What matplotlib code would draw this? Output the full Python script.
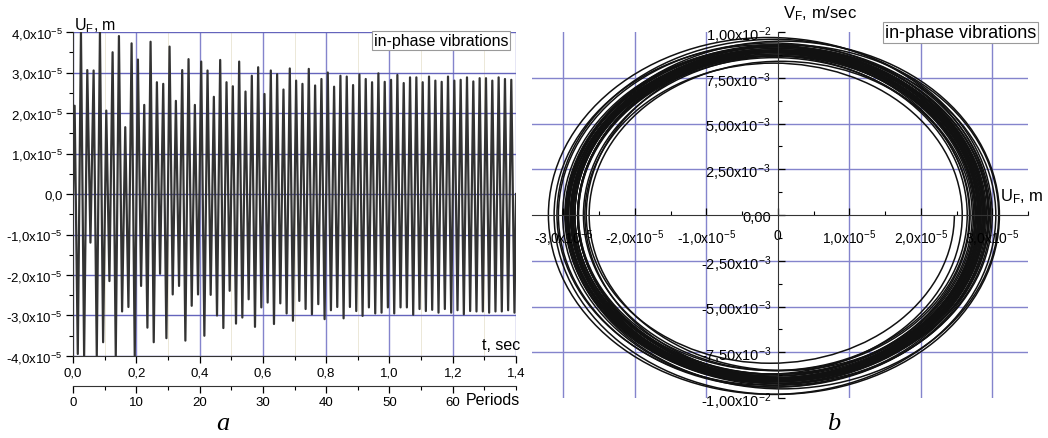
import matplotlib.pyplot as plt
import matplotlib.ticker as mticker
from matplotlib.patches import Arc
import numpy as np

plt.rcParams['font.family'] = ['Liberation Sans', 'DejaVu Sans']
plt.rcParams['mathtext.fontset'] = 'custom'
plt.rcParams['mathtext.rm'] = 'Liberation Sans'
plt.rcParams['mathtext.it'] = 'Liberation Sans:italic'

period = 0.02   # s (50 Hz)
t_end = 1.4

# panel a: max / min displacement in every period, units 1e-5 m
u_peaks = [2.18, 3.99, 3.06, 3.05, 4.0, 2.06, 3.5, 3.9, 1.65, 3.72,
           3.32, 2.2, 3.76, 2.76, 2.72, 3.64, 2.3, 3.06, 3.33, 2.2,
           3.27, 3.05, 2.4, 3.31, 2.76, 2.66, 3.27, 2.53, 2.92, 3.13,
           2.47, 3.05, 2.96, 2.58, 3.1, 2.8, 2.72, 3.09, 2.68, 2.84,
           3.0, 2.65, 2.92, 2.9, 2.69, 2.95, 2.84, 2.76, 2.98, 2.77,
           2.82, 2.94, 2.74, 2.88, 2.88, 2.76, 2.9, 2.8, 2.77, 2.9,
           2.8, 2.82, 2.88, 2.78, 2.86, 2.86, 2.8, 2.88, 2.84, 2.82]
u_troughs = [-3.95, -4.0, -1.2, -4.0, -3.66, -2.15, -4.0, -2.9, -2.79, -4.0,
             -2.27, -3.3, -3.66, -1.97, -3.56, -2.48, -2.27, -3.62, -2.76, -2.48,
             -3.5, -2.49, -3.0, -3.31, -2.39, -3.2, -3.05, -2.6, -3.28, -2.8,
             -2.68, -3.21, -2.7, -2.95, -3.13, -2.64, -2.84, -2.97, -2.72, -3.09,
             -2.87, -2.79, -3.07, -2.79, -2.89, -3.01, -2.8, -2.95, -2.93, -2.8,
             -2.95, -2.8, -2.8, -2.98, -2.84, -2.89, -2.86, -2.93, -2.84, -2.93,
             -2.87, -2.97, -2.89, -2.9, -2.9, -2.93, -2.9, -2.9, -2.87, -2.93]

# panel b: steady loops from period 30 on, velocity extremes, units 1e-3 m/s
first_loop = 30
v_bot = [8.1, 9.8, 8.9, 8.7, 9.8, 8.5, 8.7, 9.5, 8.5, 9.3,
         9.2, 8.5, 9.4, 8.9, 8.8, 9.4, 8.9, 9.0, 9.3, 8.7,
         9.1, 9.0, 8.7, 9.2, 9.0, 8.9, 9.0, 9.0, 8.8, 9.2,
         8.9, 9.1, 9.1, 8.9, 9.0, 9.1, 8.9, 9.1, 9.0, 9.0]
v_top = [9.0, 9.7, 8.3, 9.5, 9.3, 8.4, 9.3, 8.9, 8.7, 9.6,
         8.7, 9.0, 9.4, 8.6, 9.2, 9.2, 8.7, 9.3, 8.9, 8.8,
         9.2, 8.7, 8.9, 9.2, 8.8, 9.1, 8.9, 8.9, 9.0, 9.0,
         8.9, 9.2, 8.9, 9.0, 9.0, 9.0, 9.1, 9.0, 8.9]

grid_h = '#6464bc'
grid_v = '#8484cc'


def fmt_u(v, pos):
    if abs(v) < 1e-12:
        return '0,0'
    return ('%.1f' % (v * 1e5)).replace('.', ',') + 'x10$^{-5}$'


def fmt_u0(v, pos):
    if abs(v) < 1e-12:
        return '0'
    return ('%.1f' % (v * 1e5)).replace('.', ',') + 'x10$^{-5}$'


def fmt_v(v, pos):
    if abs(v) < 1e-12:
        return '0,00'
    if abs(v) > 0.0099:
        return ('%.2f' % (v * 1e2)).replace('.', ',') + 'x10$^{-2}$'
    return ('%.2f' % (v * 1e3)).replace('.', ',') + 'x10$^{-3}$'


n = len(u_peaks)
t_peak = period / 4 + period * np.arange(n)
t_trough = 3 * period / 4 + period * np.arange(n)
t = np.concatenate([[0], np.column_stack([t_peak, t_trough]).ravel(), [t_end]])
u = np.concatenate([[0], np.column_stack([u_peaks, u_troughs]).ravel(), [0]]) * 1e-5

fig = plt.figure(figsize=(10.48, 4.39), dpi=100)

# ---- panel a: time history
ax1 = fig.add_axes([0.0697, 0.1868, 0.4227, 0.738])
ax1.plot(t, u, color='#333333', lw=1.6)
ax1.set_xlim(0, t_end)
ax1.set_ylim(-4e-5, 4e-5)
ax1.set_axisbelow(True)

ax1.xaxis.set_major_locator(mticker.MultipleLocator(0.2))
ax1.xaxis.set_minor_locator(mticker.MultipleLocator(0.1))
ax1.xaxis.set_major_formatter(mticker.FuncFormatter(lambda v, p: ('%.1f' % v).replace('.', ',')))
ax1.yaxis.set_major_locator(mticker.MultipleLocator(1e-5))
ax1.yaxis.set_minor_locator(mticker.MultipleLocator(0.5e-5))
ax1.yaxis.set_major_formatter(mticker.FuncFormatter(fmt_u))

ax1.yaxis.grid(True, color=grid_h, lw=1.0)
ax1.xaxis.grid(True, color=grid_v, lw=1.0)
ax1.xaxis.grid(True, which='minor', color='#ece8d8', lw=0.7)

ax1.tick_params(axis='both', which='major', direction='out', length=5, width=0.9, labelsize=9.5, pad=2.5)
ax1.tick_params(axis='both', which='minor', direction='out', length=3, width=0.8)
for s in ['top', 'right']:
    ax1.spines[s].set_visible(False)
for s in ['left', 'bottom']:
    ax1.spines[s].set_color('#333333')

sec = ax1.secondary_xaxis(-0.0926, functions=(lambda x: x / period, lambda p: p * period))
sec.set_xticks(np.arange(0, 61, 10))
sec.xaxis.set_minor_locator(mticker.MultipleLocator(5))
sec.tick_params(which='major', direction='out', length=5, width=0.9, labelsize=9.5, pad=2.5)
sec.tick_params(which='minor', direction='out', length=3, width=0.8)
sec.spines['bottom'].set_color('#333333')

ax1.text(0.002, 1.022, 'U$_\\mathrm{F}$, m', transform=ax1.transAxes, fontsize=11.5,
         ha='left', va='center')
ax1.text(1.01, 0.035, 't, sec', transform=ax1.transAxes, fontsize=11.5, ha='right', va='center')
ax1.text(1.01, -0.133, 'Periods', transform=ax1.transAxes, fontsize=11.5, ha='right', va='center')
ax1.text(0.831, 0.975, 'in-phase vibrations', transform=ax1.transAxes, fontsize=11.5,
         ha='center', va='center',
         bbox=dict(boxstyle='square,pad=0.12', fc='white', ec='#9a9a9a', lw=0.8))

# ---- panel b: phase portrait
ax2 = fig.add_axes([0.5076, 0.0911, 0.4733, 0.8337])
ax2.set_xlim(-3.44e-5, 3.5e-5)
ax2.set_ylim(-1.0e-2, 1.0e-2)

x_grid = [-3e-5, -2e-5, -1e-5, 1e-5, 2e-5, 3e-5]
y_grid = [-7.5e-3, -5e-3, -2.5e-3, 2.5e-3, 5e-3, 7.5e-3]
for xg in x_grid:
    ax2.axvline(xg, color=grid_v, lw=1.0, zorder=0)
for yg in y_grid:
    ax2.axhline(yg, color=grid_v, lw=1.0, zorder=0)

for i in range(len(v_bot)):
    k = first_loop + i
    p = u_peaks[k] * 1e-5
    q = u_troughs[k] * 1e-5
    ax2.add_patch(Arc(((p + q) / 2, 0), p - q, 2 * v_bot[i] * 1e-3,
                      theta1=180, theta2=360, color='#111111', lw=1.1))
    if i < len(v_top):
        p2 = u_peaks[k + 1] * 1e-5
        ax2.add_patch(Arc(((p2 + q) / 2, 0), p2 - q, 2 * v_top[i] * 1e-3,
                          theta1=0, theta2=180, color='#111111', lw=1.1))

ax2.spines['left'].set_position(('data', 0))
ax2.spines['bottom'].set_position(('data', 0))
for s in ['top', 'right']:
    ax2.spines[s].set_visible(False)
for s in ['left', 'bottom']:
    ax2.spines[s].set_color('#333333')

ax2.xaxis.set_major_locator(mticker.MultipleLocator(1e-5))
ax2.xaxis.set_minor_locator(mticker.MultipleLocator(0.5e-5))
ax2.xaxis.set_major_formatter(mticker.FuncFormatter(fmt_u0))
ax2.yaxis.set_major_locator(mticker.MultipleLocator(2.5e-3))
ax2.yaxis.set_minor_locator(mticker.MultipleLocator(1.25e-3))
ax2.yaxis.set_major_formatter(mticker.FuncFormatter(fmt_v))
ax2.tick_params(axis='both', which='major', direction='in', length=5, width=0.9)
ax2.tick_params(axis='both', which='minor', direction='in', length=3, width=0.8)
ax2.tick_params(axis='x', labelsize=10, pad=9)
ax2.tick_params(axis='y', labelsize=10.5, pad=5)

fig.text(0.747, 0.968, 'V$_\\mathrm{F}$, m/sec', fontsize=12, ha='left', va='center')
fig.text(0.954, 0.551, 'U$_\\mathrm{F}$, m', fontsize=12, ha='left', va='center')
fig.text(0.9165, 0.9237, 'in-phase vibrations', fontsize=13, ha='center', va='center',
         bbox=dict(boxstyle='square,pad=0.12', fc='white', ec='#9a9a9a', lw=0.8))

fig.text(0.213, 0.02, 'a', fontsize=19, family='Liberation Serif', style='italic',
         ha='center', va='baseline')
fig.text(0.795, 0.02, 'b', fontsize=19, family='Liberation Serif', style='italic',
         ha='center', va='baseline')

fig.savefig('out.png', dpi=100)
